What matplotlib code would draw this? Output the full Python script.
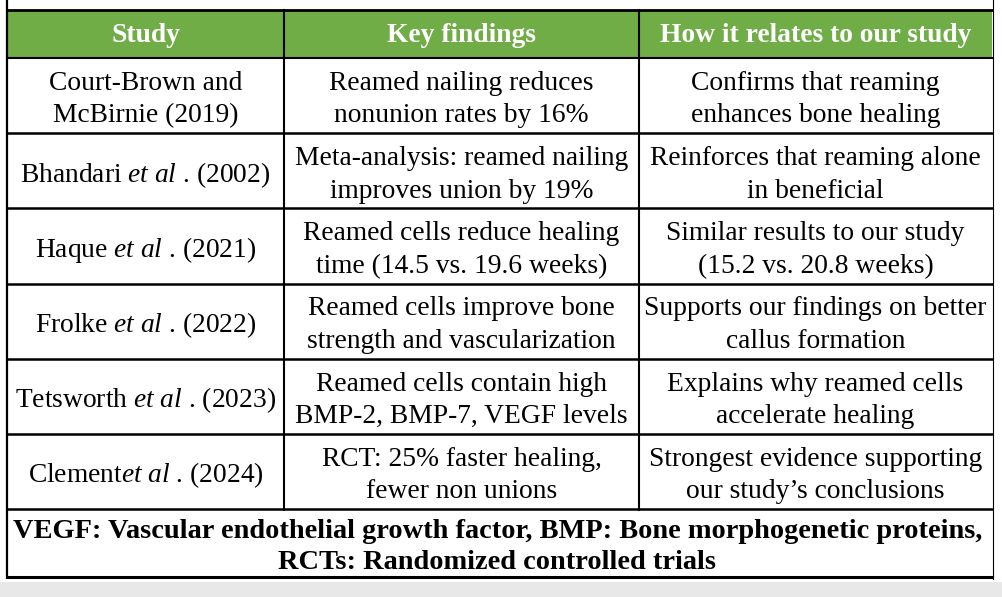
import matplotlib.pyplot as plt
from matplotlib.patches import Rectangle

plt.rcParams['font.family'] = ['Liberation Serif', 'DejaVu Serif']
plt.rcParams['mathtext.fontset'] = 'custom'
plt.rcParams['mathtext.rm'] = 'Liberation Serif'
plt.rcParams['mathtext.it'] = 'Liberation Serif:italic'

headers = ['Study', 'Key findings', 'How it relates to our study']

studies = [
    'Court-Brown and\nMcBirnie (2019)',
    r'Bhandari $\mathit{et\ al}$ . (2002)',
    r'Haque $\mathit{et\ al}$ . (2021)',
    r'Frolke $\mathit{et\ al}$ . (2022)',
    r'Tetsworth $\mathit{et\ al}$ . (2023)',
    r'Clement$\mathit{et\ al}$ . (2024)',
]
findings = [
    'Reamed nailing reduces\nnonunion rates by 16%',
    'Meta-analysis: reamed nailing\nimproves union by 19%',
    'Reamed cells reduce healing\ntime (14.5 vs. 19.6 weeks)',
    'Reamed cells improve bone\nstrength and vascularization',
    'Reamed cells contain high\nBMP-2, BMP-7, VEGF levels',
    'RCT: 25% faster healing,\nfewer non unions',
]
relations = [
    'Confirms that reaming\nenhances bone healing',
    'Reinforces that reaming alone\nin beneficial',
    'Similar results to our study\n(15.2 vs. 20.8 weeks)',
    'Supports our findings on better\ncallus formation',
    'Explains why reamed cells\naccelerate healing',
    'Strongest evidence supporting\nour study\u2019s conclusions',
]
footnote = ('VEGF: Vascular endothelial growth factor, BMP: Bone morphogenetic proteins,\n'
            'RCTs: Randomized controlled trials')

# layout in pixels
W, H = 1002, 597
left, right = 7, 992
col_edges = [left, 284, 639, right]
top_line = 10
header_bot = 58
row_h = 75.2
foot_bot = 577
green = '#70ad47'
fs = 19.8
dy = 4  # va='center' sits a bit high compared to the reference

fig = plt.figure(figsize=(W / 100, H / 100), dpi=100)
ax = fig.add_axes([0, 0, 1, 1])
ax.set_xlim(0, W)
ax.set_ylim(H, 0)
ax.axis('off')

# gray strip at bottom
ax.add_patch(Rectangle((0, 582), W, H - 582, color='#e8e8e8', lw=0))

# header
ax.add_patch(Rectangle((left, top_line), right - left, header_bot - top_line, color=green, lw=0))
for i, h in enumerate(headers):
    cx = (col_edges[i] + col_edges[i + 1]) / 2
    ax.text(cx, (top_line + header_bot) / 2 + 2, h, ha='center', va='center',
            color='white', fontsize=fs, fontweight='bold')

# body rows
n = len(studies)
row_tops = [header_bot + k * row_h for k in range(n + 1)]
for k in range(n):
    cy = (row_tops[k] + row_tops[k + 1]) / 2 + dy
    for i, txt in enumerate([studies[k], findings[k], relations[k]]):
        cx = (col_edges[i] + col_edges[i + 1]) / 2
        t = ax.text(cx, cy, txt, ha='center', va='center', fontsize=fs,
                    linespacing=1.4, color='black')
        if i == 2:
            t.set_clip_path(Rectangle((col_edges[2], row_tops[k]), right - col_edges[2],
                                      row_h, transform=ax.transData))

# footnote
foot_top = row_tops[-1]
ax.text((left + right) / 2 - 2, (foot_top + foot_bot) / 2 + dy, footnote, ha='center',
        va='center', fontsize=20.4, fontweight='bold', linespacing=1.35, color='black')

# grid lines
ax.plot([left, right], [top_line, top_line], color='black', lw=2)
ax.plot([left, right], [header_bot, header_bot], color='black', lw=1.5)
for y in row_tops[1:]:
    ax.plot([left, right], [y, y], color='black', lw=1.8)
ax.plot([left, right], [foot_bot, foot_bot], color='black', lw=2.2)
ax.plot([left, left], [0, foot_bot], color='black', lw=1.6)
ax.plot([right + 1, right + 1], [0, foot_bot + 2], color='black', lw=0.8)
for x in col_edges[1:3]:
    ax.plot([x, x], [top_line, foot_top + 1], color='black', lw=1.5)

fig.savefig('out.png', dpi=100)
